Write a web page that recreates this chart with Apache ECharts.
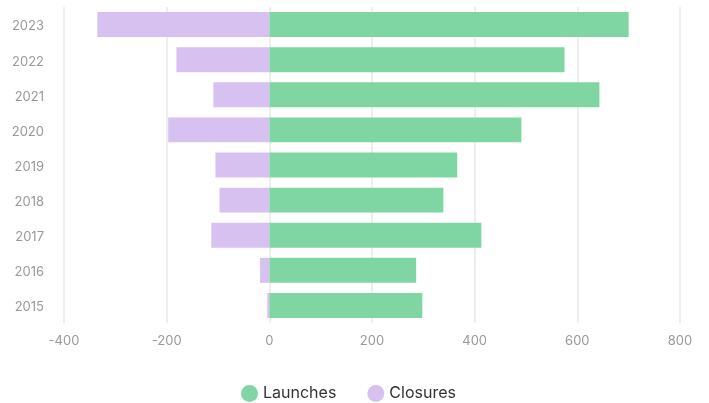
<!DOCTYPE html>
<html>
<head>
<meta charset="utf-8">
<style>
  html, body { margin: 0; padding: 0; background: #fff; }
  #chart { width: 709px; height: 403px; }
</style>
<script src="https://cdn.jsdelivr.net/npm/echarts@6/dist/echarts.min.js"></script>
</head>
<body>
<div id="chart"></div>
<script>
// Yearly launches and closures
const years = ['2015', '2016', '2017', '2018', '2019', '2020', '2021', '2022', '2023'];
const launches = [298, 286, 413, 339, 366, 491, 643, 575, 700];
const closures = [-4, -18, -113, -97, -105, -197, -109, -181, -335];
const xTicks = { min: -400, max: 800, interval: 200 };

const chart = echarts.init(document.getElementById('chart'), null, { renderer: 'canvas' });

const labelFont = 'Inter, "Noto Sans", sans-serif';

chart.setOption({
  animation: false,
  grid: { left: 64, right: 29, top: 7, bottom: 80, containLabel: false },
  legend: {
    bottom: 1,
    left: 241,
    padding: 0,
    icon: 'circle',
    itemWidth: 17,
    itemHeight: 17,
    itemGap: 31,
    textStyle: { fontFamily: labelFont, fontSize: 16, color: '#333' },
    data: ['Launches', 'Closures']
  },
  xAxis: {
    type: 'value',
    min: xTicks.min,
    max: xTicks.max,
    interval: xTicks.interval,
    axisLine: { show: false },
    axisTick: { show: false },
    axisLabel: { color: '#999', fontFamily: labelFont, fontSize: 13, margin: 12 },
    splitLine: { lineStyle: { color: '#eeeeee', width: 2 } }
  },
  yAxis: {
    type: 'category',
    data: years,
    axisLine: { show: false },
    axisTick: { show: false },
    axisLabel: {
      margin: 20,
      formatter: '{y|{value}}',
      rich: {
        y: { color: '#999', fontFamily: labelFont, fontSize: 13, padding: [4, 0, 0, 0] }
      }
    }
  },
  series: [
    {
      name: 'Launches',
      type: 'bar',
      stack: 'total',
      data: launches,
      barWidth: '71%',
      itemStyle: { color: '#7fd6a2' }
    },
    {
      name: 'Closures',
      type: 'bar',
      stack: 'total',
      data: closures,
      barWidth: '71%',
      itemStyle: { color: '#d7c1f0' }
    }
  ]
});
</script>
</body>
</html>
